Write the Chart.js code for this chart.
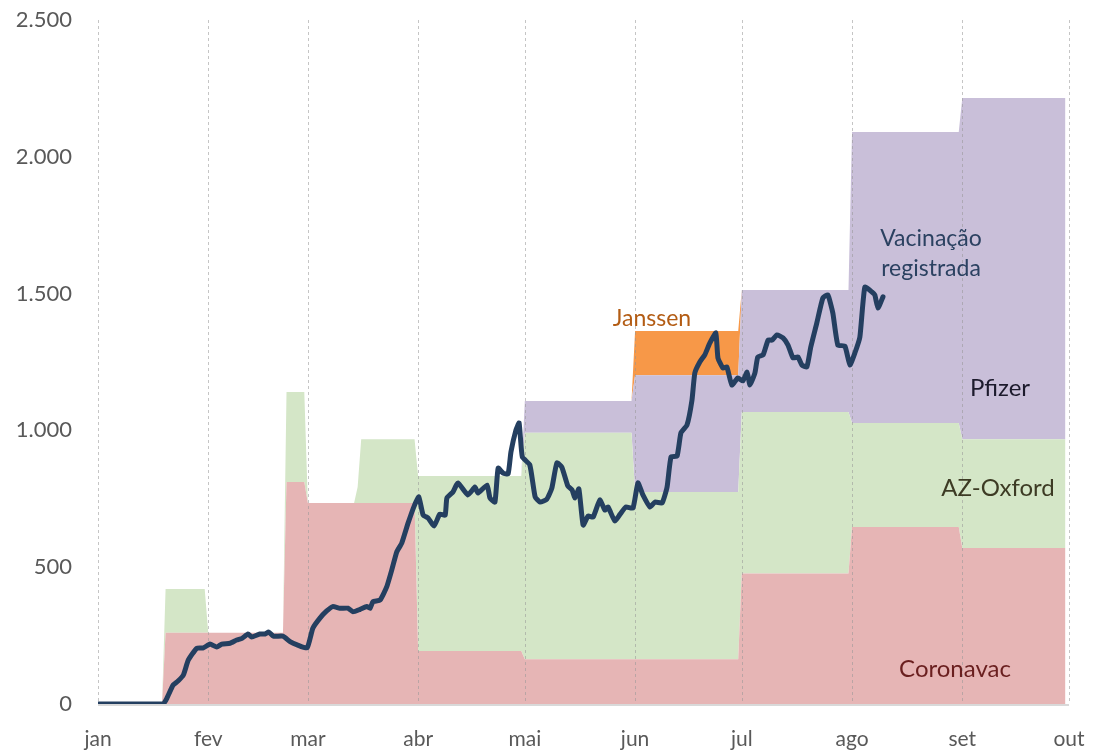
<!DOCTYPE html>
<html>
<head>
<meta charset="utf-8">
<script src="https://cdn.jsdelivr.net/npm/chart.js@4/dist/chart.umd.min.js"></script>
<style>
  html, body { margin: 0; padding: 0; background: #fff; }
  #wrap { width: 1094px; height: 752px; }
</style>
</head>
<body>
<div id="wrap"><canvas id="vacChart" width="1094" height="752"></canvas></div>
<script>
// day of year (0 = 1 jan) where the weekly distribution changes
let days = [0, 18, 19, 30, 31, 52, 53, 58, 59, 72, 73, 74, 89, 90, 119, 120, 150, 151, 180, 181, 211, 212, 242, 243, 272];
let coronavac = [0, 0, 260, 260, 260, 260, 811, 811, 735, 735, 735, 735, 735, 194, 194, 164, 164, 164, 164, 477, 477, 647, 647, 570, 570];
let azOxford  = [0, 0, 160, 160, 0, 0, 329, 329, 0, 0, 58, 233, 233, 639, 639, 827, 827, 611, 611, 590, 590, 380, 380, 398, 398];
let pfizer    = [0, 0, 0, 0, 0, 0, 0, 0, 0, 0, 0, 0, 0, 0, 0, 116, 116, 427, 427, 446, 446, 1064, 1064, 1247, 1247];
let janssen   = [0, 0, 0, 0, 0, 0, 0, 0, 0, 0, 0, 0, 0, 0, 0, 0, 0, 161, 161, 0, 0, 0, 0, 0, 0];

// vacinação registrada
let lineDays = [0, 18.3, 19.4, 21.1, 22.5, 24, 25.4, 27.8, 29.6, 31.5, 33.4, 34.8, 37.1, 39, 40.5, 42.2, 43.2, 45.5, 47, 48, 49.3, 52, 54, 56, 58.8,
  60.4, 62.4, 64.3, 66, 68, 70.3, 71.7, 73.7, 75.6, 76.5, 77.3, 79.3, 81.2, 82.6, 84, 85.4, 87.2, 89, 90.2, 91.4, 92.8, 94.5, 96.1, 97.6, 98.1,
  99.8, 101.2, 104, 106, 106.8, 109.4, 110.2, 111.6, 112.5, 113.9, 115.3, 116.1, 117.5, 118.4, 119.3, 121.4, 122.9, 124.3, 126.2, 127.6,
  129, 130.4, 132.1, 133.3, 134.1, 135.2, 136.4, 137.8, 139.2, 141.1, 142.5, 143.4, 145.3, 146.8, 148.4, 150.4, 151.8, 153.2, 155.2, 156.6,
  158.6, 160, 161.1, 162.8, 163.9, 165.6, 167, 167.8, 169.2, 170.6, 172, 173.7, 174.3, 175.7, 176.8, 178.2, 179.9, 181.3, 182.5, 183.3,
  184.7, 185.5, 187, 188.4, 189.5, 190.9, 192.6, 194, 195.4, 196.8, 197.9, 199.3, 200.4, 202.1, 203.8, 205.2, 206.6, 208, 210, 211.4,
  212.8, 214.2, 215.6, 217.6, 218.4, 219.3, 220.7];
let lineValues = [0, 0, 22, 69, 84, 106, 161, 204, 205, 219, 208, 219, 222, 234, 240, 256, 245, 256, 256, 263, 248, 248, 228, 216, 205,
  277, 314, 340, 356, 350, 350, 337, 346, 356, 350, 374, 380, 429, 490, 556, 588, 662, 727, 757, 691, 680, 651, 694, 690, 753,
  775, 808, 764, 793, 771, 800, 753, 738, 862, 844, 841, 921, 1001, 1027, 903, 874, 757, 738, 749, 789,
  881, 866, 797, 782, 753, 786, 654, 687, 683, 746, 709, 720, 669, 694, 720, 716, 808, 764, 720, 738,
  735, 793, 903, 906, 991, 1020, 1111, 1210, 1250, 1276, 1319, 1356, 1265, 1228, 1232, 1166, 1192, 1181, 1213, 1166,
  1210, 1268, 1276, 1330, 1330, 1349, 1338, 1312, 1265, 1268, 1239, 1232, 1305, 1393, 1484, 1495, 1429, 1312, 1308, 1239,
  1283, 1341, 1524, 1506, 1495, 1447, 1488];

let monthTicks = [0, 31, 59, 90, 120, 151, 181, 212, 243, 273];
let monthLabels = ['jan', 'fev', 'mar', 'abr', 'mai', 'jun', 'jul', 'ago', 'set', 'out'];

const fontFamily = 'Lato, "Noto Sans", sans-serif';

function toPoints(xs, ys)
  {
    return xs.map((x, i) => ({x: x, y: ys[i]}));
  }

function areaSet(label, values, color, fill)
  {
    return {
      label: label,
      data: toPoints(days, values),
      backgroundColor: color,
      borderColor: color,
      borderWidth: 0,
      pointRadius: 0,
      tension: 0,
      fill: fill,
      stack: 'vacinas',
      order: 1
    };
  }

// dashed month lines go over the areas but under the navy line
const monthGrid = {
  id: 'monthGrid',
  afterDatasetDraw(chart, args) {
    if (args.index !== 0) return;
    const ctx = chart.ctx;
    const x = chart.scales.x;
    const area = chart.chartArea;
    ctx.save();
    ctx.strokeStyle = 'rgba(150,150,150,0.55)';
    ctx.lineWidth = 1;
    ctx.setLineDash([3, 3]);
    monthTicks.forEach(t => {
      const px = Math.round(x.getPixelForValue(t)) + 0.5;
      ctx.beginPath();
      ctx.moveTo(px, area.top);
      ctx.lineTo(px, area.bottom);
      ctx.stroke();
    });
    ctx.setLineDash([]);
    ctx.strokeStyle = '#d9d9d9';
    ctx.lineWidth = 2;
    ctx.beginPath();
    ctx.moveTo(area.left, area.bottom + 1);
    ctx.lineTo(area.right, area.bottom + 1);
    ctx.stroke();
    ctx.restore();
  }
};

const seriesLabels = {
  id: 'seriesLabels',
  afterDraw(chart) {
    const ctx = chart.ctx;
    ctx.save();
    ctx.textAlign = 'center';
    ctx.textBaseline = 'alphabetic';
    ctx.font = '23px ' + fontFamily;
    ctx.fillStyle = '#b35c14';
    ctx.fillText('Janssen', 652, 326);
    ctx.fillStyle = '#2b4161';
    ctx.fillText('Vacinação', 931, 246);
    ctx.fillText('registrada', 931, 276);
    ctx.font = '24px ' + fontFamily;
    ctx.fillStyle = '#1c1a2c';
    ctx.fillText('Pfizer', 1000, 396);
    ctx.fillStyle = '#3d3b24';
    ctx.fillText('AZ-Oxford', 998, 496);
    ctx.fillStyle = '#6a1f1f';
    ctx.fillText('Coronavac', 955, 677);
    ctx.restore();
  }
};

let ctxVac = document.getElementById('vacChart').getContext('2d');

let vacChart = new Chart(ctxVac, {
  type: 'line',
  data: {
    datasets: [
      areaSet('Coronavac', coronavac, '#e6b5b5', 'origin'),
      areaSet('AZ-Oxford', azOxford, '#d4e6c7', '-1'),
      areaSet('Pfizer', pfizer, '#c9bfd9', '-1'),
      areaSet('Janssen', janssen, '#f79848', '-1'),
      {
        label: 'Vacinação registrada',
        data: toPoints(lineDays, lineValues),
        borderColor: '#243f60',
        backgroundColor: '#243f60',
        borderWidth: 5,
        pointRadius: 0,
        tension: 0.15,
        fill: false,
        borderJoinStyle: 'round',
        borderCapStyle: 'round',
        stack: 'registro',
        order: 0
      }
    ]
  },
  options: {
    responsive: false,
    animation: false,
    layout: {
      padding: {top: 20, right: 25, left: 0, bottom: 0}
    },
    plugins: {
      legend: {display: false},
      tooltip: {enabled: false}
    },
    scales: {
      x: {
        type: 'linear',
        min: 0,
        max: 273,
        afterBuildTicks: scale => {
          scale.ticks = monthTicks.map(v => ({value: v}));
        },
        afterFit: scale => {
          scale.height = 48;
          scale.paddingLeft = 0;
          scale.paddingRight = 0;
        },
        grid: {display: false, drawTicks: false},
        border: {display: false},
        ticks: {
          padding: 23,
          maxRotation: 0,
          autoSkip: false,
          color: '#595959',
          font: {family: fontFamily, size: 21},
          callback: value => monthLabels[monthTicks.indexOf(value)]
        }
      },
      y: {
        stacked: true,
        min: 0,
        max: 2500,
        afterFit: scale => {
          scale.width = 98;
          scale.paddingTop = 0;
          scale.paddingBottom = 0;
        },
        grid: {display: false, drawTicks: false},
        border: {display: false},
        ticks: {
          stepSize: 500,
          padding: 26,
          color: '#595959',
          font: {family: fontFamily, size: 22},
          callback: value => value.toLocaleString('pt-BR')
        }
      }
    }
  },
  plugins: [monthGrid, seriesLabels]
});
</script>
</body>
</html>
